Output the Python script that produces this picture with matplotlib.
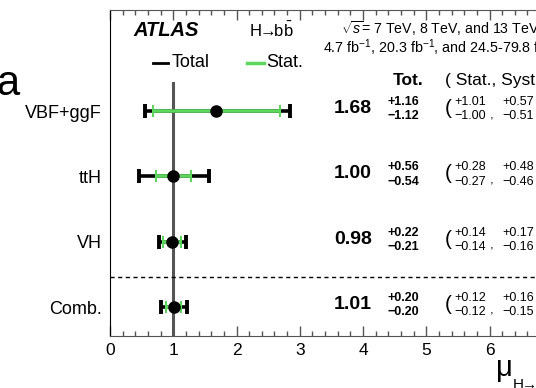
import matplotlib
matplotlib.use("Agg")
import matplotlib.pyplot as plt
from matplotlib.ticker import MultipleLocator

plt.rcParams['font.family'] = ['Liberation Sans', 'DejaVu Sans']
plt.rcParams['mathtext.fontset'] = 'custom'
plt.rcParams['mathtext.rm'] = 'Liberation Sans'
plt.rcParams['mathtext.it'] = 'Liberation Sans:italic'
plt.rcParams['mathtext.bf'] = 'Liberation Sans:bold'

# signal strengths per production mode (bottom row first)
channels = ["Comb.", "VH", "ttH", "VBF+ggF"]
mu = [1.01, 0.98, 1.00, 1.68]
tot_up = [0.20, 0.22, 0.56, 1.16]
tot_dn = [0.20, 0.21, 0.54, 1.12]
stat_up = [0.12, 0.14, 0.28, 1.01]
stat_dn = [0.12, 0.14, 0.27, 1.00]
syst_up = [0.16, 0.17, 0.48, 0.57]
syst_dn = [0.15, 0.16, 0.46, 0.51]
xticks = [0, 1, 2, 3, 4, 5, 6, 7, 8]

green = "#5cd65c"
hbb = r"H$\!\!\rightarrow\!\!$b$\bar{\mathrm{b}}$"

fig = plt.figure(figsize=(5.36, 3.88), dpi=100)
ax = fig.add_axes([110 / 536, 52 / 388, 506 / 536, 326 / 388])
ax.set_xlim(0, 8)
ax.set_ylim(-0.444, 4.548)

ypos = list(range(len(channels)))

# SM reference line
ax.plot([1, 1], [-0.444, 3.43], color="#555555", lw=2.2, zorder=1)
# separator between individual channels and combination
ax.axhline(0.46, color="black", lw=1, ls=(0, (3, 2.5)), zorder=1)

ax.errorbar(mu, ypos, xerr=[tot_dn, tot_up], fmt="none", ecolor="black",
            elinewidth=2.6, capsize=5, capthick=2.8, zorder=2)
ax.errorbar(mu, ypos, xerr=[stat_dn, stat_up], fmt="none", ecolor=green,
            elinewidth=2.6, capsize=4, capthick=1.5, zorder=3)
ax.plot(mu, ypos, "o", color="black", ms=8, zorder=4)

# axes styling
ax.set_yticks(ypos)
ax.set_yticklabels(channels, fontsize=13)
ax.tick_params(axis="y", length=0, pad=6)
ax.set_xticks(xticks)
ax.xaxis.set_minor_locator(MultipleLocator(0.2))
ax.tick_params(axis="x", which="major", direction="in", length=7, width=1,
               top=True, labelsize=12.5, color="#555555", pad=5)
ax.tick_params(axis="x", which="minor", direction="in", length=3.5, width=1,
               top=True, color="#555555")
ax.spines["bottom"].set_color("#555555")
ax.spines["top"].set_color("#555555")
ax.spines["left"].set_color("black")

# header
ax.text(0.37, 4.24, "ATLAS", fontsize=14.5, fontweight="bold", style="italic",
        va="center", ha="left")
ax.text(2.2, 4.24, hbb, fontsize=12, va="center", ha="left")
ax.text(3.66, 4.27, r"$\sqrt{s}$= 7 TeV, 8 TeV, and 13 TeV", fontsize=10.2,
        va="center", ha="left")
ax.text(3.36, 3.97, r"4.7 fb$^{-1}$, 20.3 fb$^{-1}$, and 24.5-79.8 fb$^{-1}$",
        fontsize=10.3, va="center", ha="left")

# legend
ax.plot([0.68, 0.92], [3.74, 3.74], color="black", lw=2)
ax.text(0.98, 3.74, "Total", fontsize=13, va="center", ha="left")
ax.plot([2.17, 2.43], [3.74, 3.74], color=green, lw=2.5)
ax.text(2.47, 3.74, "Stat.", fontsize=13, va="center", ha="left")

ax.text(4.47, 3.475, "Tot.", fontsize=12.5, fontweight="bold", va="center", ha="left")
ax.text(5.29, 3.475, "( Stat., Syst. )", fontsize=12.5, va="center", ha="left")

# numerical results per row
for y, m, tu, td, su, sd, yu, yd in zip(ypos, mu, tot_up, tot_dn, stat_up,
                                       stat_dn, syst_up, syst_dn):
    ax.text(4.14, y + 0.04, f"{m:.2f}", fontsize=14, fontweight="bold",
            va="center", ha="right")
    ax.text(4.38, y + 0.14, f"+{tu:.2f}", fontsize=9, fontweight="bold",
            va="center", ha="left")
    ax.text(4.38, y - 0.08, f"\u2212{td:.2f}", fontsize=9, fontweight="bold",
            va="center", ha="left")
    ax.text(5.3, y + 0.04, "(", fontsize=15, va="center", ha="left")
    ax.text(5.45, y + 0.14, f"+{su:.2f}", fontsize=9, va="center", ha="left")
    ax.text(5.45, y - 0.08, f"\u2212{sd:.2f}", fontsize=9, va="center", ha="left")
    ax.text(6.0, y - 0.06, ",", fontsize=9.5, va="center", ha="left")
    ax.text(6.2, y + 0.14, f"+{yu:.2f}", fontsize=9, va="center", ha="left")
    ax.text(6.2, y - 0.08, f"\u2212{yd:.2f}", fontsize=9, va="center", ha="left")
    ax.text(6.82, y + 0.04, ")", fontsize=15, va="center", ha="left")

# x-axis title and panel letter
fig.text(496 / 536, 1 - 368 / 388, "\u03bc", fontsize=21, ha="left", va="center")
fig.text(512 / 536, 1 - 384 / 388, hbb, fontsize=11, ha="left", va="center")
fig.text(-4 / 536, 1 - 84 / 388, "a", fontsize=30, ha="left", va="center")

fig.savefig("out.png", dpi=100)
